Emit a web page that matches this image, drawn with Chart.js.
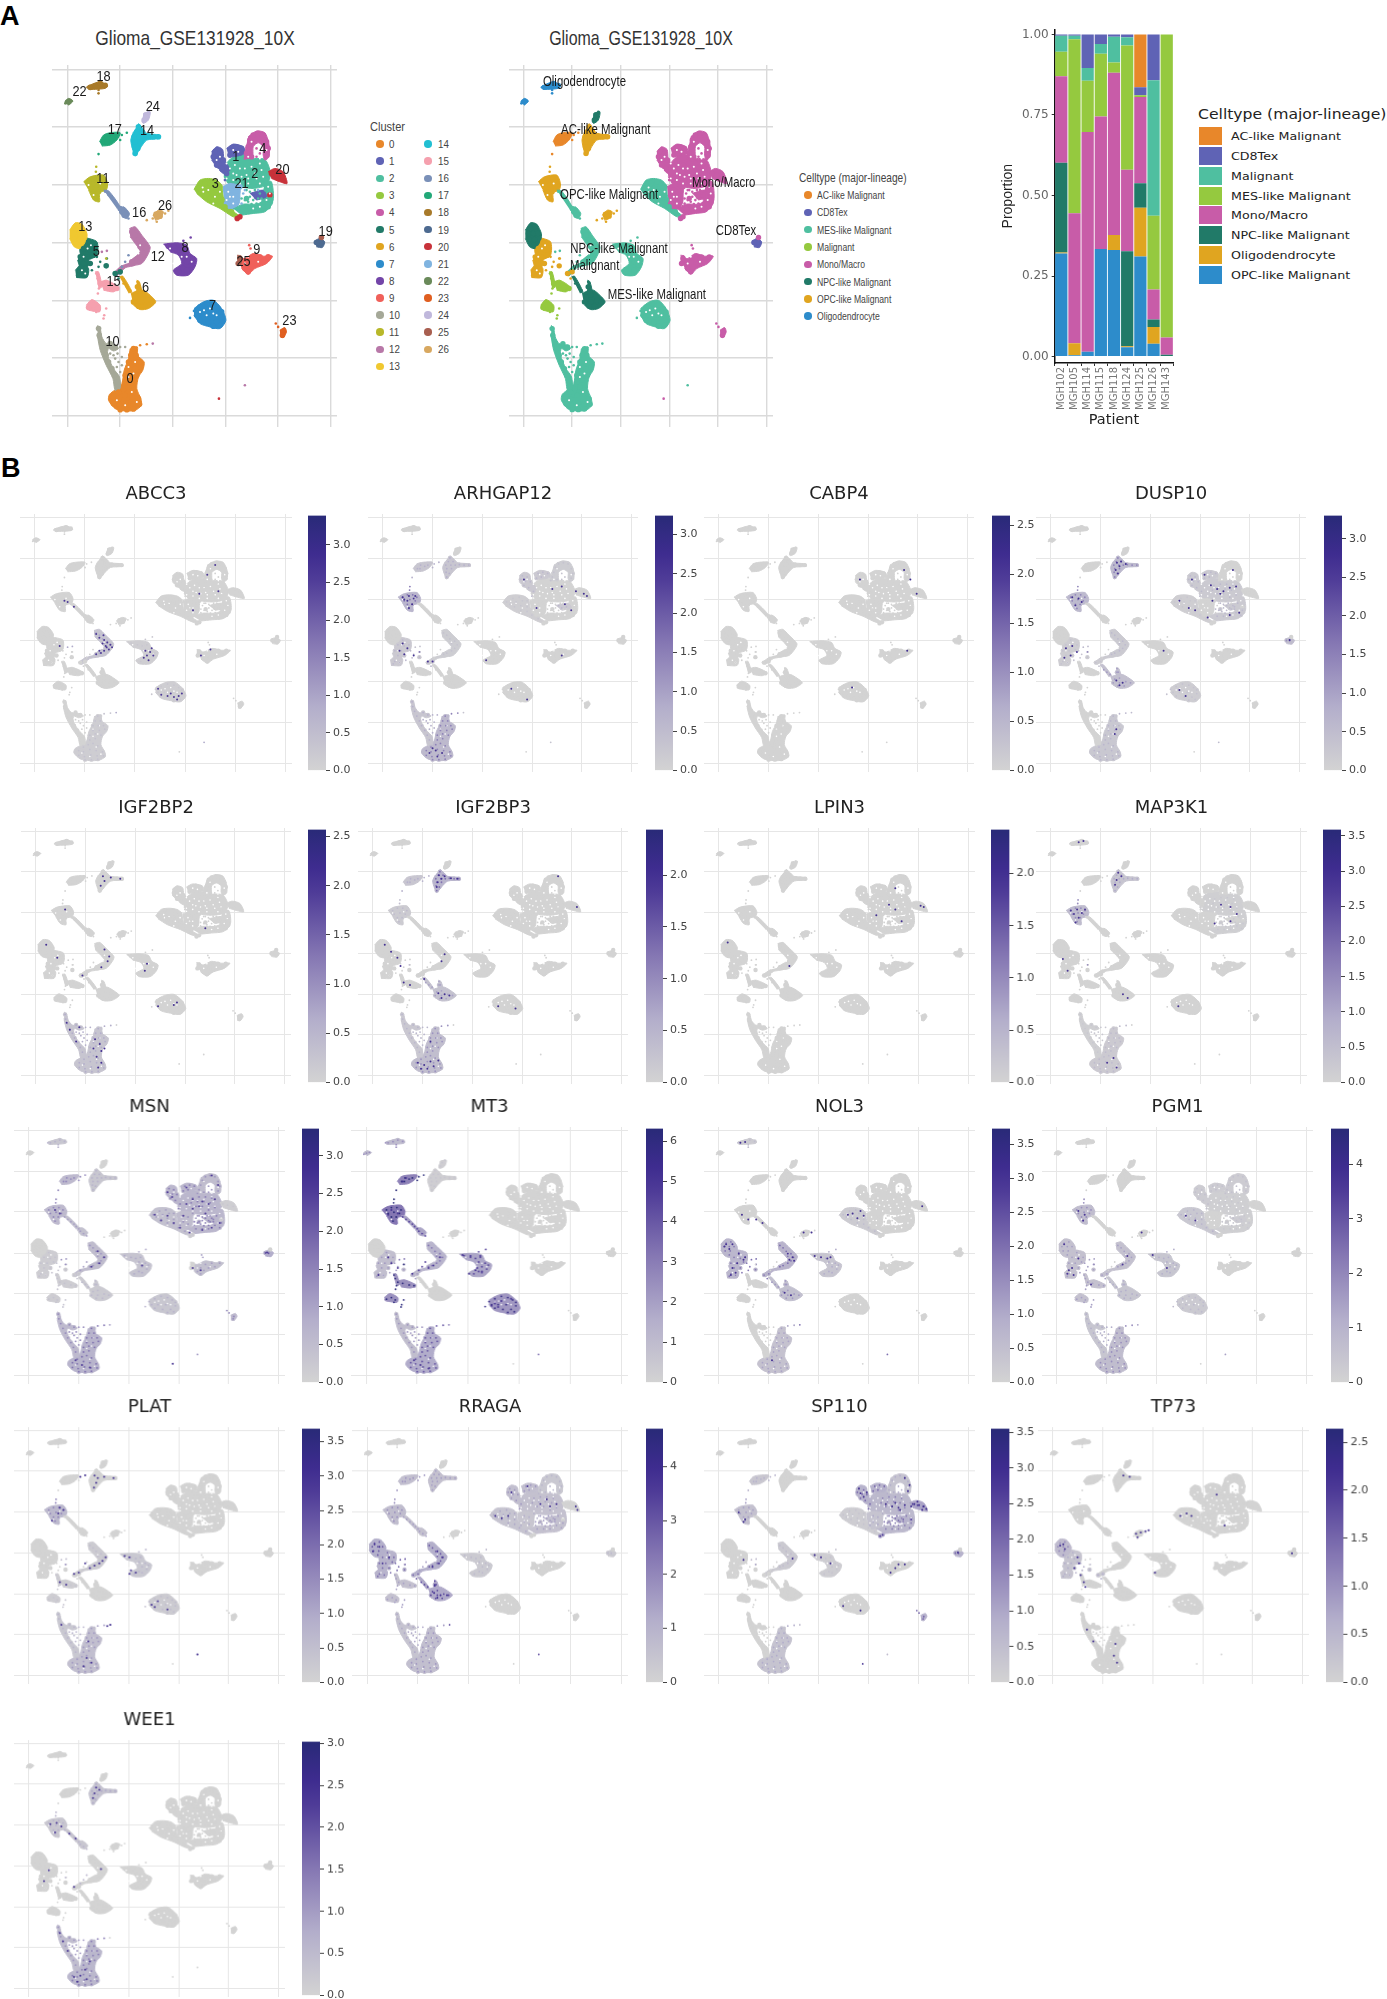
<!DOCTYPE html>
<html>
<head>
<meta charset="utf-8">
<title>Glioma_GSE131928_10X</title>
<script src="https://cdn.jsdelivr.net/npm/chart.js@4"></script>
<style>
  html, body { margin: 0; padding: 0; background: #fff; overflow: hidden; }
  #page { position: relative; width: 1387px; height: 1999px; }
  canvas { position: absolute; }
  .txt { position: absolute; white-space: nowrap; line-height: 1; }
</style>
</head>
<body>
<div id="page"></div>
<script>
// embedding values, estimated by eye off the UMAP (no axis labels in the figure, units are arbitrary)
const gridX = [202, 359, 517, 676, 833, 992];
const gridY = [209, 381, 553, 727, 900, 1072, 1245];

const clusterColors = ["#e8872a","#5f63b5","#4fbfa0","#95c93f","#c85ca8","#217a68","#e0a520","#2d8ccb","#7345a8","#f0605a","#a5a898","#b8b82a","#b878a8","#f0c830","#22bfd2","#f5a0ae","#7a90b8","#22a878","#a87a2a","#4d6a90","#c8323a","#80b4e0","#6a8a5a","#e05f20","#c0b8dc","#a85f50","#d8a860"];

// solid body of each cell cloud: [cluster, outline], later entries sit on top
const clusterOutlines = [
  [2,[[670,500],[700,470],[735,465],[745,475],[795,478],[812,520],[800,555],[760,565],[720,560],[690,555],[672,530]]],
  [21,[[668,560],[690,550],[720,560],[712,620],[690,630],[672,600]]],
  [2,[[795,545],[815,545],[820,600],[800,620],[785,600]]],
  [0,[[400,1040],[412,1040],[412,1065],[432,1085],[428,1110],[415,1130],[410,1165],[422,1195],[424,1215],[405,1230],[375,1232],[345,1225],[325,1200],[328,1182],[350,1165],[365,1150],[372,1110],[385,1075],[390,1045]]],
  [10,[[292,975],[300,985],[305,1010],[318,1030],[345,1035],[355,1045],[340,1052],[325,1045],[322,1065],[340,1105],[358,1130],[360,1165],[345,1170],[338,1135],[318,1095],[300,1050],[292,1010]]],
  [3,[[582,568],[600,540],[625,535],[650,540],[665,555],[670,590],[690,625],[720,650],[700,650],[660,625],[620,605],[590,580]]],
  [1,[[635,455],[650,440],[668,448],[672,475],[690,510],[670,520],[650,500],[635,480]]],
  [1,[[680,445],[700,432],[730,440],[735,460],[700,470],[685,465]]],
  [1,[[750,580],[790,570],[800,590],[770,600]]],
  [4,[[745,410],[770,393],[795,398],[807,430],[808,470],[795,480],[790,465],[790,440],[775,428],[760,440],[758,468],[735,478],[738,440]]],
  [2,[[700,490],[725,480],[760,480],[790,490],[800,520],[795,545],[760,555],[730,545],[705,530]]],
  [2,[[700,625],[730,612],[770,612],[800,598],[815,590],[818,610],[795,635],[760,640],[725,645]]],
  [21,[[680,565],[705,560],[720,590],[715,615],[685,625],[675,600]]],
  [20,[[805,515],[825,505],[850,515],[862,550],[840,545],[815,535]]],
  [5,[[255,712],[290,725],[290,765],[262,778],[240,760],[240,725]]],
  [5,[[240,760],[265,775],[262,800],[240,800],[232,780]]],
  [5,[[225,810],[245,790],[265,805],[260,832],[228,832]]],
  [13,[[208,690],[225,668],[245,672],[260,700],[258,720],[240,745],[222,740],[208,715]]],
  [11,[[250,545],[270,530],[310,525],[322,550],[318,570],[298,578],[298,605],[280,600],[265,570]]],
  [12,[[388,685],[405,680],[425,705],[450,740],[445,760],[425,790],[395,795],[388,785],[420,755],[405,730],[390,710]]],
  [12,[[395,785],[405,795],[375,803],[350,827],[340,820],[365,795]]],
  [8,[[490,732],[530,728],[560,735],[570,760],[590,775],[585,800],[565,825],[530,825],[520,810],[545,790],[535,765],[510,755]]],
  [9,[[715,770],[735,775],[760,760],[790,768],[818,768],[800,790],[765,805],[745,822],[725,805]]],
  [7,[[582,925],[610,905],[640,900],[665,925],[678,960],[660,985],[630,980],[600,970],[582,945]]],
  [6,[[392,880],[415,870],[430,870],[450,885],[467,905],[445,925],[420,928],[400,915]]],
  [6,[[410,840],[418,845],[425,880],[408,880]]],
  [6,[[358,830],[368,828],[395,875],[385,878]]],
  [14,[[415,370],[428,385],[440,400],[478,405],[480,415],[440,420],[420,445],[405,468],[398,450],[392,420],[400,395]]],
  [24,[[430,340],[450,335],[445,360],[430,370],[425,365]]],
  [17,[[298,425],[310,405],[330,398],[360,398],[350,420],[330,435],[305,438]]],
  [18,[[262,258],[300,245],[322,258],[315,265],[285,268],[265,268]]],
  [22,[[193,305],[205,295],[218,303],[205,316]]],
  [19,[[945,722],[960,715],[975,725],[968,742],[950,740]]],
  [23,[[840,990],[855,982],[860,995],[850,1012],[842,1010]]],
  [16,[[355,630],[370,620],[388,640],[380,655],[365,650]]],
  [16,[[310,570],[325,572],[360,620],[350,625]]],
  [15,[[258,915],[275,898],[300,915],[298,935],[265,930]]],
  [15,[[300,845],[320,840],[355,862],[340,875],[310,870]]],
  [15,[[285,815],[295,815],[305,860],[295,865]]],
  [26,[[458,645],[475,630],[490,635],[480,655],[465,660]]],
  [25,[[712,765],[725,768],[722,795],[712,790]]]
];

const clusterCells = [
  /*0*/ [[340,1190],[355,1175],[370,1165],[385,1160],[400,1170],[355,1195],[375,1185],[395,1190],[415,1195],[340,1210],[358,1215],[378,1208],[398,1212],[418,1212],[360,1228],[380,1228],[400,1226],[375,1145],[392,1140],[375,1125],[392,1120],[410,1125],[385,1105],[405,1105],[422,1100],[385,1085],[402,1085],[418,1085],[392,1065],[408,1065],[400,1045]],
  /*1*/ [[645,455],[660,460],[640,470],[655,478],[670,480],[650,495],[665,505],[680,520],[695,445],[710,440],[725,445],[690,465],[705,460],[770,590],[785,585]],
  /*2*/ [[720,495],[740,490],[760,490],[780,495],[715,515],[735,510],[755,510],[775,515],[730,530],[750,530],[790,535],[770,545],[730,625],[750,625],[770,625],[790,610],[740,595],[805,620],[810,600]],
  /*3*/ [[595,565],[615,550],[635,545],[605,575],[625,565],[645,560],[660,560],[620,585],[640,580],[660,585],[640,600],[660,605],[675,620],[695,635]],
  /*4*/ [[760,405],[775,400],[790,405],[750,420],[800,425],[745,440],[805,445],[740,460],[800,465],[755,470]],
  /*5*/ [[265,725],[250,745],[270,750],[285,745],[240,770],[260,770],[280,765],[250,790],[270,790],[240,815],[255,820],[235,825],[318,797],[345,820],[360,815]],
  /*6*/ [[405,890],[420,885],[400,905],[420,905],[440,900],[455,905],[415,918],[435,918],[412,860]],
  /*7*/ [[600,920],[620,910],[640,915],[655,925],[590,945],[610,945],[600,960],[625,965],[650,965],[665,950],[660,975],[640,978],[665,935],[635,945]],
  /*8*/ [[505,738],[525,745],[540,750],[555,745],[550,765],[570,770],[580,778],[560,785],[575,795],[550,805],[535,815],[560,810]],
  /*9*/ [[760,775],[780,770],[805,770],[745,790],[770,790],[790,785],[735,805],[755,800],[745,815]],
  /*10*/ [[295,985],[297,1005],[303,1025],[310,1045],[318,1065],[325,1085],[335,1105],[343,1125],[350,1145],[330,1030],[345,1040]],
  /*11*/ [[265,545],[280,535],[297,535],[310,545],[270,560],[288,555],[305,560],[280,575],[295,575],[285,592]],
  /*12*/ [[395,695],[405,705],[415,720],[430,730],[420,740],[438,745],[430,760],[420,770],[405,780],[395,785]],
  /*13*/ [[225,685],[240,680],[218,700],[235,700],[250,700],[222,718],[238,718],[235,735]],
  /*14*/ [[415,380],[410,395],[425,395],[402,410],[418,410],[432,410],[405,425],[420,425],[403,440],[413,445],[405,460],[445,408],[460,410],[475,410]],
  /*15*/ [[315,855],[335,862],[350,865],[300,850],[265,922],[280,915],[292,925]],
  /*16*/ [[365,635],[375,645],[360,625]],
  /*17*/ [[312,425],[322,410],[335,415],[320,425],[345,410]],
  /*18*/ [[270,262],[285,257],[300,250],[315,256]],
  /*19*/ [[960,728],[950,727]],
  /*20*/ [[815,520],[830,525],[848,530],[810,585],[712,655],[720,650]],
  /*21*/ [[690,570],[705,575],[690,595],[705,605],[680,610],[720,560]],
  /*22*/ [[203,305]],
  /*23*/ [[850,995],[848,1005]],
  /*24*/ [[437,345],[432,360]],
  /*25*/ [[720,775],[715,790],[965,712]],
  /*26*/ [[468,642],[480,648]]
];

// thin strands and loose cells: [cluster, x, y]
const strayCells = [
  [10,360,1040],[10,375,1040],[0,420,1035],[0,440,1032],[12,458,1030],[15,288,820],[15,292,835],[15,296,865],[15,293,880],[15,318,925],[15,312,945],[15,310,955],[15,288,935],
  [10,350,1100],[10,360,1115],[10,355,1085],[10,345,1075],[10,365,1095],[10,340,1065],[10,330,1060],[10,352,1060],[10,365,1070],
  [11,288,500],[11,287,515],[16,315,575],[16,325,585],[16,335,595],[16,345,605],[16,352,615],[16,385,655],[17,295,462],[17,365,405],[17,380,398],[17,360,420],
  [26,495,640],[26,505,632],[26,470,665],[26,458,655],[26,440,660],[9,748,735],[9,752,745],[6,370,850],[6,380,860],[6,390,870],[6,412,845],[6,416,860],
  [24,445,335],[18,295,270],[18,295,280],[18,262,262],[22,195,310],[22,212,302],[23,828,970],[23,835,980],[12,735,1155],[20,657,1195],
  [16,385,765],[16,375,785],[16,365,800],[5,300,785],[5,290,770],[5,320,775],[5,295,800],[5,275,810],[5,355,835],[12,320,752],[12,305,755],[11,318,775],[8,572,712],[8,550,722],[7,570,953],[7,582,932],
  [2,740,570],[1,760,580],[2,750,575],[21,775,570],[2,795,570],[2,760,600],[21,730,580],[21,725,610],[2,735,600],[2,750,590],[2,770,610],[2,780,580],[2,745,605],[2,765,570],[2,725,595],[21,735,570],[2,785,595],[2,755,612],[2,775,595],[4,735,475],[4,770,470],[1,675,540],[4,770,445],[4,780,460]
];

// empty spots inside the clouds
const gapCells = [[630,925],[612,930],[640,940],[620,945],[650,945],[600,935],[545,770],[520,790],[262,745],[250,770],[272,735],[625,570],[645,590],[608,562],[735,505],[765,520],[745,535],[785,510],[650,480],[700,450],[385,1100],[400,1120],[405,1085],[745,770],[735,790],[775,785],[420,735],[415,760],[690,590],[700,610],[760,625],[780,620],[265,555],[300,550],[280,585],[510,745],[560,770],[575,785],
  [680,490],[690,505],[705,495],[720,505],[710,525],[725,530],[700,540],[680,535],[740,525],[755,500],[770,535],[790,530],[780,550],[745,550],[720,550],[700,520],[685,575],[700,590],[680,600],[805,560],[810,580],[800,600],[655,510],[660,470],[715,455],[755,425],[800,450],[780,490],[640,610],[610,575],[660,575],[780,475],[745,470],[350,1200],[375,1215],[395,1175],[410,1205],[385,1130],[255,820],[245,810]];

// celltype of each cluster, index into celltypeNames
const celltypeNames = ["AC-like Malignant","CD8Tex","MES-like Malignant","Malignant","Mono/Macro","NPC-like Malignant","OPC-like Malignant","Oligodendrocyte"];
const celltypeColors = ["#e8872a","#5f63b5","#4fbfa0","#95c93f","#c85ca8","#217a68","#e0a520","#2d8ccb"];
const clusterCelltype = [2,4,4,2,4,6,5,2,2,4,2,6,2,5,6,3,2,0,7,1,4,4,7,4,5,4,6];

const clusterLabels = [["18",310,231],["22",238,277],["24",458,321],["17",344,390],["14",441,392],["1",708,470],["4",789,445],["20",848,508],["2",765,522],["21",725,550],["3",646,550],["11",308,536],["16",417,638],["26",495,617],["13",255,680],["19",978,695],["5",288,755],["12",473,770],["8",555,743],["9",771,748],["25",731,785],["15",340,845],["6",436,864],["7",638,918],["23",869,963],["10",337,1024],["0",390,1137]];
const celltypeLabels = [["Oligodendrocyte",400,245],["AC-like Malignant",469,388],["OPC-like Malignant",480,585],["Mono/Macro",852,549],["CD8Tex",892,693],["NPC-like Malignant",512,745],["Malignant",433,797],["MES-like Malignant",635,885]];

// stacked proportions per patient
const patients = ["MGH102","MGH105","MGH114","MGH115","MGH118","MGH124","MGH125","MGH126","MGH143"];
const barNames = ["AC-like Malignant","CD8Tex","Malignant","MES-like Malignant","Mono/Macro","NPC-like Malignant","Oligodendrocyte","OPC-like Malignant"];
const barColors = ["#e8872a","#5f63b5","#4fbfa0","#95c93f","#c85ca8","#217a68","#e0a520","#2d8ccb"];
const propOPC   = [.32,.004,.015,.334,.331,.029,.311,.04,0];
const propOligo = [.003,.037,0,0,.046,.003,.151,.052,0];
const propNPC   = [.279,0,0,0,0,.295,.076,.023,.006];
const propMono  = [.268,.404,.682,.411,.504,.253,.268,.093,.053];
const propMES   = [.076,.54,.159,.195,.032,.386,.005,.229,.941];
const propMal   = [.05,.011,.04,.03,.08,.025,0,.421,0];
const propCD8   = [.004,.004,.104,.03,.007,.009,.025,.142,0];
const propAC    = [0,0,0,0,0,0,.164,0,0];
const propTicks = [0,.25,.5,.75,1];

// feature plots
const genes = ["ABCC3","ARHGAP12","CABP4","DUSP10","IGF2BP2","IGF2BP3","LPIN3","MAP3K1","MSN","MT3","NOL3","PGM1","PLAT","RRAGA","SP110","TP73","WEE1"];
const geneMax = [3.39,3.24,2.6,3.3,2.57,2.44,2.42,3.59,3.36,6.31,3.73,4.65,3.69,4.7,3.55,2.64,3.02];
const geneStep = [.5,.5,.5,.5,.5,.5,.5,.5,.5,1,.5,1,.5,1,.5,.5,.5];
const geneDotValue = [2.6,2.6,2.2,2.7,2.1,2.0,2.0,2.8,2.6,5,3,3.6,3,3.8,3,2.2,2.4];

// mean expression per cluster, only where it shows
const geneMeans = [
  {12:.5,0:.2,8:.15,7:.15},
  {0:.8,10:.4,11:.9,5:.3,17:.4,14:.4,1:.3,3:.15,4:.2,12:.2},
  {},
  {14:.8,11:.8,0:.35,6:.6,5:.2,2:.3,1:.3,3:.15,7:.2,12:.3,19:.7},
  {0:.35,10:.35},
  {0:.5,14:.7,6:.4,10:.25,17:.3,11:.2},
  {},
  {11:.8,14:.5,0:.3,2:.15,10:.15},
  {0:1.0,10:.8,1:.9,2:.9,3:.6,4:.7,21:.7,20:.15,11:.8,16:.6,17:.8,12:.7,9:.6,7:.4,8:.5,19:1.2,14:.4,6:.3,5:.2,18:.4,15:.2,23:.8},
  {11:4.5,17:4,15:3.4,7:3.2,8:2.6,0:2.3,10:1.3,12:1.8,16:2.6,18:1.4,22:1.4,24:.3,14:.3,5:1.2},
  {13:1.0,5:1.0,12:1.1,8:.5,0:.6,6:.7,18:.3,3:.3},
  {0:1.0,11:1.0,5:.8,13:.8,12:.8,8:.6,3:.5,10:.6,6:.6,7:.4,15:.8,1:.3,4:.3,2:.2},
  {11:.9,0:.7,10:.4,8:.4,12:.3,7:.3,15:.2},
  {13:1.6,5:1.4,12:1.6,6:1.8,0:.9,10:.7,11:1.0,14:.8,17:.9,1:.9,2:.8,3:.7,4:.5,21:.6,16:.8,8:.4,15:.8,19:.4},
  {1:1.1,2:.9,4:.5,20:1.5,21:.5,3:.2,11:.6,0:.5,12:.3,19:1.1,17:.4,23:1.1,8:.2},
  {13:.6,5:.35},
  {0:.8,10:.6,14:.45,11:.35,16:.35}
];

// strongest single cells per gene
const geneDots = [
  [[395,700],[405,715],[420,725],[430,735],[425,750],[440,745],[435,765],[420,770],[410,780],[395,785],[415,740],[428,755],[405,770],[445,755],[418,705],[550,770],[565,775],[575,790],[555,790],[560,810],[545,800],[570,760],[600,955],[620,960],[640,965],[655,960],[665,950],[650,975],[630,950],[590,930],[770,410],[745,450],[295,560],[305,565],[325,585],[700,600],[720,530],[780,520],[725,790],[755,765],[280,750]],
  [[265,545],[285,540],[300,550],[280,560],[295,575],[285,590],[270,555],[305,540],[265,740],[280,760],[255,770],[270,785],[345,815],[360,815],[300,790],[350,1200],[370,1190],[390,1200],[375,1215],[360,1180],[650,470],[740,510],[770,500],[815,520],[840,530],[850,540],[690,590],[800,600],[780,575],[610,930],[660,975],[770,790],[530,810]],
  [[790,430],[650,470],[830,530],[800,770],[625,925],[810,470]],
  [[412,400],[420,415],[408,430],[425,395],[415,445],[440,405],[270,545],[290,550],[300,565],[280,580],[250,760],[270,750],[285,775],[245,800],[265,790],[730,510],[750,520],[770,505],[740,530],[710,495],[790,500],[715,560],[650,470],[780,430],[690,450],[770,620],[800,610],[700,630],[610,560],[640,590],[660,600],[410,895],[430,905],[420,915],[610,935],[630,960],[960,725],[410,1100],[405,1120],[560,770]],
  [[415,400],[420,420],[408,440],[440,405],[470,410],[420,710],[435,740],[430,760],[410,785],[390,1090],[405,1110],[385,1130],[410,1140],[395,1165],[410,1190],[400,1210],[420,1130],[300,1020],[310,1050],[330,1100],[340,1040],[295,540],[555,770],[548,800],[590,950],[650,935],[640,945],[740,620],[270,745],[235,690],[350,820]],
  [[412,395],[420,410],[408,425],[405,445],[430,400],[450,408],[470,410],[345,1190],[365,1200],[385,1185],[355,1215],[375,1215],[395,1205],[410,1180],[385,1100],[410,895],[430,900],[420,915],[445,905],[240,690],[280,745],[260,720],[290,780],[365,835],[320,860],[300,850],[600,950],[655,960],[850,530],[790,400],[420,760],[430,730]],
  [[850,530],[840,525],[740,520],[760,540],[700,565],[425,780],[760,450],[780,590],[230,680]],
  [[265,545],[285,540],[300,555],[275,560],[290,575],[280,595],[310,540],[415,385],[425,400],[410,415],[405,435],[305,250],[290,255],[240,750],[255,800],[740,520],[770,530],[790,560],[770,590],[720,600],[380,1190],[400,1170],[410,1210],[605,950],[430,900],[445,915]],
  [[640,470],[655,490],[700,450],[720,500],[750,510],[770,520],[740,530],[720,540],[780,400],[800,440],[790,500],[660,600],[680,620],[710,640],[750,630],[780,620],[805,600],[620,590],[640,570],[600,565],[690,570],[760,560],[700,520],[420,720],[440,745],[425,770],[400,785],[955,725],[657,1195],[560,780],[745,800],[720,790],[285,545],[300,560],[370,1200],[395,1210],[350,1180]],
  [[600,940],[590,950],[610,955],[620,930],[650,920],[540,800],[520,815],[560,805],[545,790],[500,735],[525,740],[555,740],[270,745],[280,770],[240,820],[300,790],[345,815],[430,745],[410,780],[395,790],[280,545],[300,560],[270,565],[325,410],[315,425],[370,1200],[395,1215],[350,1180]],
  [[225,690],[235,710],[220,700],[245,690],[265,730],[280,755],[260,770],[245,790],[240,820],[255,810],[285,745],[420,730],[435,745],[425,755],[440,760],[505,740],[525,745],[545,750],[555,745],[610,565],[625,560],[640,580],[650,550],[660,570],[275,565],[295,585],[320,585],[340,600],[285,258],[270,262],[470,640],[495,640],[845,530],[410,895],[430,905],[370,1180]],
  [[270,550],[290,565],[285,590],[240,800],[235,815],[255,820],[250,790],[270,750],[225,690],[425,740],[410,775],[505,735],[550,790],[610,570],[640,590],[310,860],[470,640]],
  [[410,400],[420,410],[415,430],[408,450],[440,405],[470,410],[365,405],[380,398],[300,535],[312,545],[295,560],[275,590],[395,790],[410,780],[425,770],[435,760],[445,745],[380,770],[345,815],[360,810],[505,740],[520,745],[525,800],[520,815],[540,810],[590,945],[600,955],[610,930],[640,965],[390,1100],[385,1170],[400,1190],[375,1205],[735,1155],[305,1030],[460,1030],[450,1035],[300,850],[320,860]],
  [[225,690],[240,700],[220,720],[270,745],[250,770],[420,720],[435,745],[425,770],[405,785],[410,895],[430,905],[450,905],[420,915],[412,865],[600,570],[620,580],[640,570],[740,520],[770,530],[760,500],[790,520],[650,470],[700,445],[855,545],[850,530]],
  [[820,520],[835,525],[850,530],[845,545],[830,510],[858,540],[810,530],[730,520],[750,530],[770,535],[760,515],[790,525],[775,545],[645,455],[650,475],[660,490],[670,470],[790,410],[805,440],[800,465],[265,555],[285,585],[280,595],[770,775],[790,775],[745,810],[760,790],[555,770],[525,745],[505,735],[595,950],[650,970],[958,725],[280,755],[435,750]],
  [[225,695],[235,690],[240,710],[280,745],[285,770],[270,790],[290,820],[300,850],[305,870],[465,645],[480,640],[495,635],[505,630],[470,660],[425,400],[445,405],[605,570],[640,570],[625,560],[525,810],[400,1110],[395,1160],[405,1190],[310,1050],[330,1100],[958,728],[720,480],[745,610]],
  [[415,395],[410,420],[425,405],[405,440],[270,550],[290,545],[305,560],[285,585],[330,590],[350,610],[265,745],[250,790],[345,815],[345,1195],[365,1190],[385,1205],[355,1215],[380,1165],[395,1130],[300,1010],[310,1045],[325,1085],[430,740]]
];

// panel boxes in the page: left, right of plot, left, right of colorbar, top, bottom
const panelBoxes = [
  [20,292,308,326,514,772],[368,638,655,673,514,772],[704,974,991.5,1010,514,772],[1036,1306,1323.5,1342,514,772],
  [20.7,291.4,308,326,827.7,1084.3],[358,628,645.7,663.3,827.7,1084.3],[704,975,991.3,1009.6,827.7,1084.3],[1036,1307,1323,1341,827.7,1084.3],
  [14.3,285,301.7,319.3,1127.3,1384.3],[351,627.7,645.7,663.3,1127.3,1384.3],[704,975,991.5,1009.6,1127.3,1384.3],[1041.6,1313.5,1331,1349,1127.3,1384.3],
  [14.1,284.8,301.5,319.5,1427,1683.7],[352,628,645.7,663.3,1427,1683.7],[704,975,991.3,1009.6,1427,1683.7],[1038.4,1309,1326,1343.8,1427,1683.7],
  [14.1,284.8,301.5,319.5,1740,1996.5]
];

const colorStops = [[0,[211,211,211]],[.25,[179,174,203]],[.5,[133,119,179]],[.75,[79,60,152]],[.85,[62,44,143]],[1,[41,42,120]]];

function colorAt(t){
  t = Math.max(0, Math.min(1, t));
  for (let i = 1; i < colorStops.length; i++) {
    const [t1, c1] = colorStops[i];
    if (t <= t1) {
      const [t0, c0] = colorStops[i-1];
      const f = (t - t0) / (t1 - t0);
      return "rgb(" + c0.map((c, k) => Math.round(c + (c1[k] - c) * f)).join(",") + ")";
    }
  }
  return "rgb(41,42,120)";
}

const page = document.getElementById("page");

function addCanvas(left, top, width, height){
  const c = document.createElement("canvas");
  c.width = width;
  c.height = height;
  c.style.left = left + "px";
  c.style.top = top + "px";
  c.style.width = width + "px";
  c.style.height = height + "px";
  page.appendChild(c);
  return c;
}

function addText(text, x, y, opts){
  const d = document.createElement("div");
  d.className = "txt";
  d.textContent = text;
  d.style.left = x + "px";
  d.style.top = y + "px";
  d.style.font = (opts.weight || "normal") + " " + opts.size + "px " + (opts.family || "'Liberation Sans'");
  d.style.color = opts.color || "#333";
  const sx = opts.sx || 1;
  if (opts.center) {
    d.style.transform = "translate(-50%,-50%) scaleX(" + sx + ")";
  } else {
    d.style.transformOrigin = "left center";
    d.style.transform = "translateY(-50%) scaleX(" + sx + ")";
  }
  page.appendChild(d);
  return d;
}

function umapScales(gridColor, gridWidth){
  const axis = (min, max, values, reverse) => ({
    type: "linear", min, max, reverse,
    afterBuildTicks: s => { s.ticks = values.map(v => ({ value: v })); },
    ticks: { display: false },
    grid: { color: gridColor, lineWidth: gridWidth, drawTicks: false },
    border: { display: false }
  });
  return { x: axis(155, 1012, gridX, false), y: axis(195, 1280, gridY, true) };
}

const labelPlugin = {
  id: "pointLabels",
  afterDatasetsDraw(chart, args, opts){
    if (!opts.items) return;
    const { ctx, scales } = chart;
    ctx.save();
    ctx.font = opts.size + "px 'Liberation Sans'";
    ctx.fillStyle = "#1a1a1a";
    ctx.textAlign = "center";
    ctx.textBaseline = "middle";
    opts.items.forEach(([text, x, y]) => {
      ctx.save();
      ctx.translate(scales.x.getPixelForValue(x), scales.y.getPixelForValue(y));
      ctx.scale(opts.squeeze, 1);
      ctx.fillText(text, 0, 0);
      ctx.restore();
    });
    ctx.restore();
  }
};

function toPoints(list){ return list.map(p => ({ x: p[0], y: p[1] })); }

function umapChart(canvas, datasets, extra){
  return new Chart(canvas, {
    type: "scatter",
    data: { datasets },
    plugins: [labelPlugin],
    options: {
      responsive: false,
      animation: false,
      events: [],
      layout: { padding: 0, autoPadding: false },
      elements: { point: { borderWidth: 0 } },
      scales: umapScales(extra.gridColor, extra.gridWidth),
      plugins: {
        legend: { display: false },
        tooltip: { enabled: false },
        title: extra.title ? { display: true, text: extra.title, color: "#222", font: { family: "'DejaVu Sans'", size: 18, weight: "normal", lineHeight: 1 }, padding: { top: 0, bottom: 11 } } : { display: false },
        pointLabels: extra.labels || {}
      }
    }
  });
}

// chart.js draws the first dataset on top, so this list goes from top to bottom
function cellDatasets(colorOf, look){
  const bodies = clusterOutlines.map(([cluster, outline]) => ({
    data: toPoints(outline), showLine: true, fill: "shape", tension: .25,
    backgroundColor: colorOf(cluster), borderColor: colorOf(cluster), borderWidth: 1, pointRadius: 0
  })).reverse();
  const cells = clusterCells.map((list, i) => ({
    data: toPoints(list), backgroundColor: colorOf(i), pointRadius: look.radius
  }));
  const strays = {
    data: toPoints(strayCells.map(s => [s[1], s[2]])),
    backgroundColor: strayCells.map(s => (look.speckOf || colorOf)(s[0])),
    pointRadius: look.strayRadius
  };
  const gaps = { data: toPoints(gapCells), backgroundColor: "#fff", pointRadius: look.gapRadius };
  const specks = look.speckOf ? clusterCells.map((list, i) => ({
    data: toPoints(list), backgroundColor: look.speckOf(i), pointRadius: look.speckRadius
  })) : [];
  return [...(look.top || []), strays, ...specks, gaps, ...cells, ...bodies];
}

// panel A, cluster map and celltype map share the cell positions
umapChart(addCanvas(52, 65, 285, 362),
  cellDatasets(i => clusterColors[i], { radius: 2.8, strayRadius: 1.3, gapRadius: 1 }),
  { gridColor: "#dadada", gridWidth: 1.4, labels: { items: clusterLabels, size: 15, squeeze: .85 } });

umapChart(addCanvas(509, 65, 264, 362),
  cellDatasets(i => celltypeColors[clusterCelltype[i]], { radius: 2.7, strayRadius: 1.3, gapRadius: 1 }),
  { gridColor: "#dadada", gridWidth: 1.4, labels: { items: celltypeLabels, size: 15, squeeze: .76 } });

addText("Glioma_GSE131928_10X", 194.5, 38, { size: 21, sx: .825, center: true });
addText("Glioma_GSE131928_10X", 641, 38, { size: 21, sx: .76, center: true });
addText("A", 0, 16, { size: 27, weight: "bold", color: "#000" });
addText("B", 1, 468, { size: 27, weight: "bold", color: "#000" });

// cluster legend
addText("Cluster", 370, 125.7, { size: 13, sx: .85, color: "#444" });
clusterColors.forEach((col, i) => {
  const left = i < 14;
  const y = 144 + 17.1 * (left ? i : i - 14);
  const dot = document.createElement("div");
  dot.style.cssText = "position:absolute;width:7.5px;height:7.5px;border-radius:50%;background:" + col + ";left:" + ((left ? 379.7 : 428) - 3.7) + "px;top:" + (y - 3.7) + "px";
  page.appendChild(dot);
  addText(String(i), left ? 389 : 437.7, y, { size: 11.5, sx: .85, color: "#444" });
});

// celltype legend
addText("Celltype (major-lineage)", 799, 176.7, { size: 13, sx: .78, color: "#444" });
celltypeNames.forEach((name, i) => {
  const y = 195 + 17.3 * i;
  const dot = document.createElement("div");
  dot.style.cssText = "position:absolute;width:7.5px;height:7.5px;border-radius:50%;background:" + celltypeColors[i] + ";left:804px;top:" + (y - 3.7) + "px";
  page.appendChild(dot);
  addText(name, 816.7, y, { size: 11.5, sx: .75, color: "#444" });
});

// panel A, proportions
const barSeries = [
  ["OPC-like Malignant", propOPC], ["Oligodendrocyte", propOligo], ["NPC-like Malignant", propNPC], ["Mono/Macro", propMono],
  ["MES-like Malignant", propMES], ["Malignant", propMal], ["CD8Tex", propCD8], ["AC-like Malignant", propAC]
];
new Chart(addCanvas(1000, 15, 180, 415), {
  type: "bar",
  data: {
    labels: patients,
    datasets: barSeries.map(([name, values]) => ({
      label: name, data: values,
      backgroundColor: barColors[barNames.indexOf(name)],
      barPercentage: .93, categoryPercentage: 1
    }))
  },
  options: {
    responsive: false,
    animation: false,
    events: [],
    layout: { padding: { top: 14.3, right: 5, bottom: 0, left: 0 } },
    scales: {
      x: {
        stacked: true,
        afterFit: s => { s.height = 67; },
        grid: { drawOnChartArea: false, tickLength: 3, color: "#333" },
        border: { color: "#111", width: 1.5 },
        ticks: { minRotation: 90, maxRotation: 90, autoSkip: false, color: "#777", padding: 1, font: { family: "'DejaVu Sans'", size: 10 } },
        title: { display: true, text: "Patient", color: "#222", padding: { top: 0, bottom: 1 }, font: { family: "'DejaVu Sans'", size: 14.5 } }
      },
      y: {
        stacked: true, min: -.02, max: 1.016,
        afterFit: s => { s.width = 54.7; },
        afterBuildTicks: s => { s.ticks = propTicks.map(v => ({ value: v })); },
        grid: { drawOnChartArea: false, tickLength: 3, color: "#333" },
        border: { color: "#111", width: 1.5 },
        ticks: { color: "#666", padding: 3, font: { family: "'DejaVu Sans'", size: 12 }, callback: v => v.toFixed(2) },
        title: { display: true, text: "Proportion", color: "#222", padding: 0, font: { family: "'Liberation Sans'", size: 14 } }
      }
    },
    plugins: { legend: { display: false }, tooltip: { enabled: false } }
  }
});

addText("Celltype (major-lineage)", 1198.3, 114, { size: 13.6, family: "'DejaVu Sans'", color: "#222", sx: 1.15 });
barNames.forEach((name, i) => {
  const y = 136.3 + 19.75 * i;
  const sw = document.createElement("div");
  sw.style.cssText = "position:absolute;left:1199.3px;width:22.4px;height:18px;background:" + barColors[i] + ";top:" + (y - 9) + "px";
  page.appendChild(sw);
  addText(name, 1230.7, y, { size: 11, family: "'DejaVu Sans'", color: "#222", sx: 1.15 });
});

// panel B, one map and one colorbar per gene
genes.forEach((gene, g) => {
  const [l, r, bl, br, top, bottom] = panelBoxes[g];
  const max = geneMax[g];
  const means = geneMeans[g];
  const titleSpace = 29;
  const map = addCanvas(l, top - titleSpace, r - l, bottom - top + titleSpace);
  const dots = {
    data: toPoints(geneDots[g]),
    backgroundColor: colorAt(geneDotValue[g] / max),
    pointRadius: 1
  };
  umapChart(map, cellDatasets(i => colorAt((means[i] || 0) * .7 / max), {
    radius: 2.2, strayRadius: .9, gapRadius: .8, speckRadius: .9,
    speckOf: i => colorAt((means[i] || 0) * 1.8 / max),
    top: [dots]
  }), { gridColor: "#e6e6e6", gridWidth: 1, title: gene });

  const bar = addCanvas(bl, top - 8, br - bl + 34, bottom - top + 16);
  new Chart(bar, {
    type: "bar",
    data: {
      labels: [gene],
      datasets: [{
        data: [max], barPercentage: 1, categoryPercentage: 1,
        backgroundColor: ctx => {
          const area = ctx.chart.chartArea;
          if (!area) return "#999";
          const grad = ctx.chart.ctx.createLinearGradient(0, area.bottom, 0, area.top);
          colorStops.forEach(([t]) => grad.addColorStop(t, colorAt(t)));
          return grad;
        }
      }]
    },
    options: {
      responsive: false,
      animation: false,
      events: [],
      layout: { padding: { top: 8, bottom: 8, left: 0, right: 0 } },
      scales: {
        x: { display: false },
        y: {
          position: "right", min: 0, max,
          afterFit: s => { s.width = 34; },
          grid: { drawOnChartArea: false, tickLength: 4, color: "#444" },
          border: { display: false },
          ticks: {
            stepSize: geneStep[g], includeBounds: false, padding: 3, color: "#444",
            font: { family: "'DejaVu Sans'", size: 11 },
            callback: v => geneStep[g] === 1 ? String(v) : v.toFixed(1)
          }
        }
      },
      plugins: { legend: { display: false }, tooltip: { enabled: false } }
    }
  });
});
</script>
</body>
</html>
